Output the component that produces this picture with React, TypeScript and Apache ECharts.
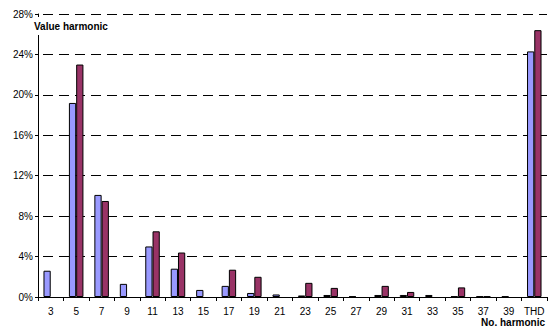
import React, { useEffect, useRef } from "react";
import * as echarts from "echarts";

const categories = ["3", "5", "7", "9", "11", "13", "15", "17", "19", "21", "23", "25", "27", "29", "31", "33", "35", "37", "39", "THD"];
const seriesA = [2.6, 19.2, 10.1, 1.3, 5.0, 2.8, 0.7, 1.1, 0.4, 0.25, 0.15, 0.2, 0.06, 0.2, 0.2, 0.2, 0.06, 0.06, 0.06, 24.3];
const seriesB = [null, 23.0, 9.5, null, 6.5, 4.4, null, 2.7, 2.0, null, 1.4, 0.9, null, 1.1, 0.5, null, 0.95, 0.06, null, 26.4];
const yTicks = [0, 4, 8, 12, 16, 20, 24, 28];

export default function App() {
  const ref = useRef<HTMLDivElement>(null);
  useEffect(() => {
    if (!ref.current) return;
    const chart = echarts.init(ref.current, null, { renderer: "svg" });
    const font = "Liberation Sans, Arial, sans-serif";
    chart.setOption({
      animation: false,
      backgroundColor: "#ffffff",
      grid: { left: 38, right: 10, top: 14, bottom: 38, containLabel: false },
      xAxis: {
        type: "category",
        data: categories,
        axisLine: { show: true, lineStyle: { color: "#000", width: 1 } },
        axisTick: { show: true, alignWithLabel: false, length: 4, lineStyle: { color: "#000" } },
        axisLabel: { color: "#000", fontSize: 10, fontFamily: font, margin: 9, interval: 0 },
        splitLine: { show: false },
      },
      yAxis: {
        type: "value",
        min: 0,
        max: 28,
        interval: 4,
        axisLine: { show: true, lineStyle: { color: "#000", width: 1 } },
        axisTick: { show: true, length: 3, lineStyle: { color: "#000" } },
        axisLabel: {
          color: "#000",
          fontSize: 10,
          fontFamily: font,
          margin: 5,
          formatter: (v: number) => (yTicks.includes(v) ? v + "%" : ""),
        },
        splitLine: { show: true, lineStyle: { color: "#000", type: [10, 6], dashOffset: -5, width: 1 } },
      },
      series: [
        {
          type: "bar",
          data: seriesA,
          barGap: "0%",
          barCategoryGap: "43%",
          itemStyle: { color: "#9999FF", borderColor: "#000", borderWidth: 1 },
        },
        {
          type: "bar",
          data: seriesB,
          itemStyle: { color: "#993366", borderColor: "#000", borderWidth: 1 },
        },
      ],
      graphic: [
        {
          type: "rect",
          shape: { x: 36, y: 17, width: 4, height: 18 },
          style: { fill: "#fff" },
          z: 100,
        },
        {
          type: "text",
          left: 34,
          top: 21,
          style: { text: "Value harmonic", font: "bold 10px " + font, fill: "#000" },
          z: 101,
        },
        {
          type: "text",
          right: 12,
          top: 317,
          style: { text: "No. harmonic", font: "bold 10px " + font, fill: "#000" },
          z: 101,
        },
      ],
    });
    return () => chart.dispose();
  }, []);
  return <div ref={ref} style={{ width: 557, height: 335, position: "absolute", left: 0, top: 0 }} />;
}
